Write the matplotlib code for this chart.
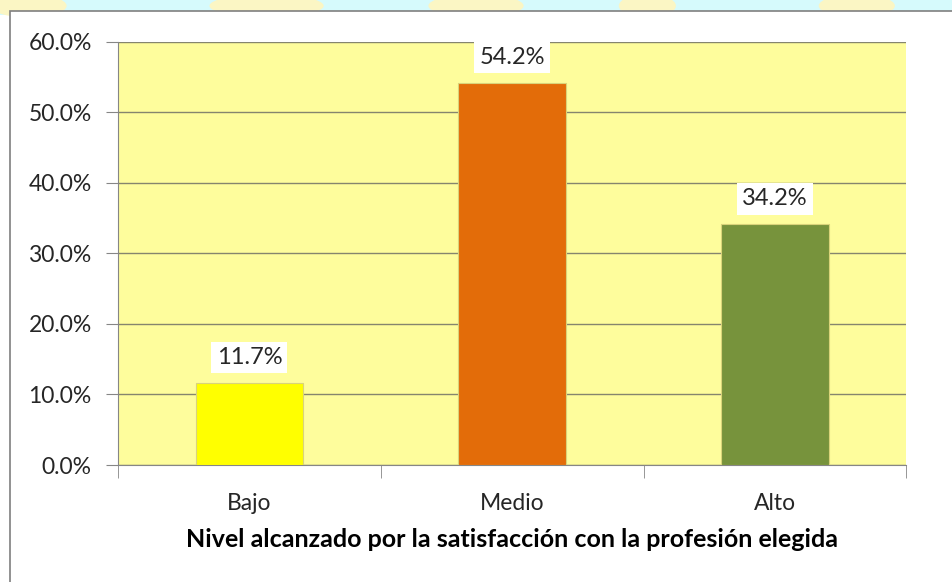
import matplotlib
matplotlib.use("Agg")
import matplotlib.pyplot as plt
from matplotlib.patches import Rectangle, Ellipse
from matplotlib.ticker import FuncFormatter, MultipleLocator

plt.rcParams["font.family"] = ["Lato", "DejaVu Sans"]

niveles = ["Bajo", "Medio", "Alto"]
porcentajes = [11.7, 54.2, 34.2]
colores = ["#FFFF00", "#E36C09", "#77933C"]
xlabel = "Nivel alcanzado por la satisfacción con la profesión elegida"

fig = plt.figure(figsize=(9.52, 5.82), dpi=100)

# faint watermark band behind the chart frame
fig.patches.append(Rectangle((0, 0.975), 1, 0.03, transform=fig.transFigure,
                             fc="#D6FAFC", ec="none", zorder=0))
for cx, w in [(0.03, 0.08), (0.28, 0.12), (0.50, 0.10), (0.68, 0.06), (0.90, 0.08)]:
    fig.patches.append(Ellipse((cx, 0.99), w, 0.04, transform=fig.transFigure,
                               fc="#FBF6C4", ec="none", zorder=0))
# chart frame
fig.patches.append(Rectangle((0.0105, -0.01), 1.0, 0.991, transform=fig.transFigure,
                             fc="white", ec="#7F7F7F", lw=1.2, zorder=1))

ax = fig.add_axes([0.124, 0.201, 0.828, 0.727])
ax.set_facecolor("#FEFD9C")
ax.set_zorder(2)

x = list(range(len(niveles)))
bars = ax.bar(x, porcentajes, width=0.41, color=colores,
              edgecolor="#D9D37A", linewidth=0.8, zorder=3)
for b, v in zip(bars, porcentajes):
    ax.annotate(f"{v:.1f}%", (b.get_x() + b.get_width() / 2, v),
                xytext=(0, 18), textcoords="offset points", ha="center", va="center",
                fontsize=17, color="#262626",
                bbox=dict(boxstyle="square,pad=0.22", fc="white", ec="none"), zorder=4)

ax.set_xlim(-0.5, 2.5)
ax.set_ylim(0, 60)
ax.yaxis.set_major_locator(MultipleLocator(10))
ax.yaxis.set_major_formatter(FuncFormatter(lambda v, p: f"{v:.1f}%"))
ax.grid(axis="y", color="#85856E", lw=1, zorder=1)
ax.set_axisbelow(True)

ax.set_xticks(x)
ax.set_xticklabels(niveles)
ax.set_xticks([-0.5, 0.5, 1.5, 2.5], minor=True)
ax.tick_params(axis="x", which="major", length=0, pad=20, labelsize=16.5, labelcolor="#262626")
ax.tick_params(axis="x", which="minor", length=9, color="#868686", direction="out")
ax.tick_params(axis="y", length=9, color="#868686", pad=10, labelsize=16.5, labelcolor="#262626")

for s in ["top", "right"]:
    ax.spines[s].set_visible(False)
ax.spines["left"].set_color("#868686")
ax.spines["bottom"].set_color("#868686")

ax.set_xlabel(xlabel, fontsize=18, fontweight="bold", color="black", labelpad=10)

fig.savefig("out.png", dpi=100)
